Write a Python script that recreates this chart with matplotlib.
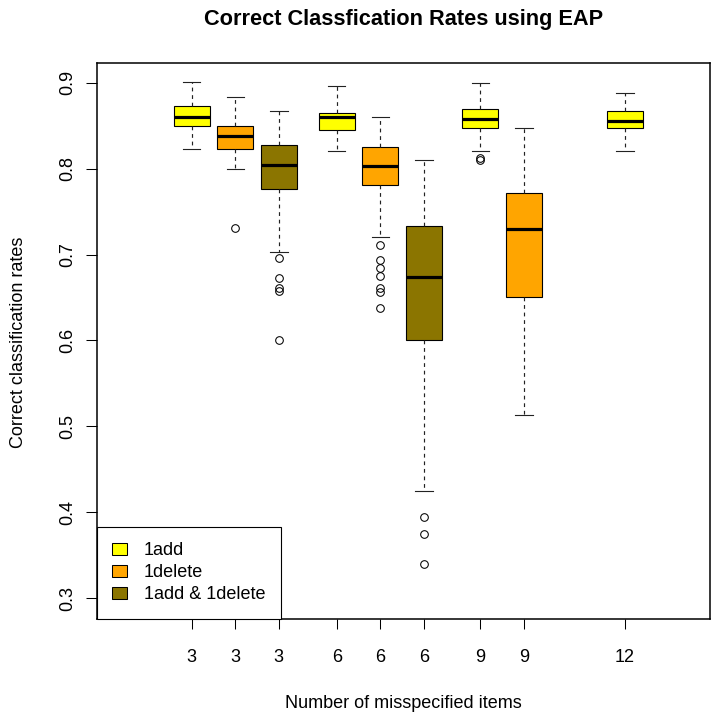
import matplotlib
matplotlib.use("Agg")
import matplotlib.pyplot as plt
from matplotlib.patches import Patch

plt.rcParams["font.family"] = ["Liberation Sans", "DejaVu Sans"]

# box summaries, one entry per box (left to right)
groups = ["1add", "1delete", "1add & 1delete",
          "1add", "1delete", "1add & 1delete",
          "1add", "1delete", "1add"]
n_items = ["3", "3", "3", "6", "6", "6", "9", "9", "12"]
whis_hi = [0.901, 0.883, 0.867, 0.896, 0.860, 0.810, 0.900, 0.847, 0.888]
upper_q = [0.873, 0.850, 0.828, 0.865, 0.825, 0.733, 0.869, 0.772, 0.867]
medians = [0.860, 0.838, 0.804, 0.860, 0.803, 0.674, 0.858, 0.730, 0.855]
lower_q = [0.850, 0.823, 0.776, 0.845, 0.781, 0.600, 0.847, 0.651, 0.847]
whis_lo = [0.823, 0.800, 0.703, 0.821, 0.721, 0.425, 0.821, 0.513, 0.821]
outliers = [
    [],
    [0.731],
    [0.696, 0.673, 0.661, 0.658, 0.600],
    [],
    [0.711, 0.694, 0.684, 0.675, 0.661, 0.656, 0.638],
    [0.395, 0.375, 0.340],
    [0.812, 0.810],
    [],
    [],
]

fills = {"1add": "#FFFF00", "1delete": "#FFA500", "1add & 1delete": "#8B7500"}
positions = [1, 2, 3, 4.33, 5.33, 6.33, 7.63, 8.63, 10.95]

stats = []
for i in range(len(medians)):
    stats.append(dict(med=medians[i], q1=lower_q[i], q3=upper_q[i],
                      whislo=whis_lo[i], whishi=whis_hi[i],
                      fliers=outliers[i]))

fig = plt.figure(figsize=(7.11, 7.15), dpi=100)
ax = fig.add_axes([97 / 711, 1 - 618.5 / 715, 613 / 711, 555.5 / 715])

bp = ax.bxp(stats, positions=positions, widths=0.827, capwidths=0.4,
            patch_artist=True, manage_ticks=False,
            boxprops=dict(edgecolor="black", linewidth=0.8),
            medianprops=dict(color="black", linewidth=2.3, solid_capstyle="butt"),
            whiskerprops=dict(color="#222222", linewidth=0.85, dashes=(3.2, 3.2)),
            capprops=dict(color="#222222", linewidth=0.8),
            flierprops=dict(marker="o", markersize=5.5, markerfacecolor="none",
                            markeredgecolor="black", markeredgewidth=0.75))
for patch, g in zip(bp["boxes"], groups):
    patch.set_facecolor(fills[g])

ax.set_xlim(-1.174, 12.90)
ax.set_ylim(0.2765, 0.9229)

ax.set_xticks(positions)
ax.set_xticklabels(n_items)
ax.set_yticks([0.3, 0.4, 0.5, 0.6, 0.7, 0.8, 0.9])
ax.set_yticklabels(["0.3", "0.4", "0.5", "0.6", "0.7", "0.8", "0.9"])
ax.tick_params(axis="x", length=7.2, width=0.75, pad=14.5, labelsize=13)
ax.tick_params(axis="y", length=7.8, width=0.75, pad=6.8, labelsize=13,
               labelrotation=90)
for lab in ax.get_yticklabels():
    lab.set_verticalalignment("center")

for s in ax.spines.values():
    s.set_linewidth(1.1)

handles = [Patch(facecolor=fills[k], edgecolor="black", linewidth=0.75)
           for k in ["1add", "1delete", "1add & 1delete"]]
leg = ax.legend(handles, ["1add", "1delete", "1add & 1delete"],
                loc="lower left", bbox_to_anchor=(0, 0), borderaxespad=0,
                fontsize=13, fancybox=False, framealpha=1, edgecolor="black",
                handlelength=0.8, handleheight=0.62, handletextpad=0.95,
                borderpad=0.85, labelspacing=0.28)
leg.get_frame().set_linewidth(0.8)

fig.text(403.5 / 711, 1 - 19 / 715, "Correct Classfication Rates using EAP",
         ha="center", va="center", fontsize=15.7, fontweight="bold")
fig.text(403.5 / 711, 1 - 704 / 715, "Number of misspecified items",
         ha="center", va="center", fontsize=13)
fig.text(19 / 711, 1 - 342.5 / 715, "Correct classification rates",
         ha="center", va="center", rotation=90, fontsize=13)

fig.savefig("out.png", dpi=100)
